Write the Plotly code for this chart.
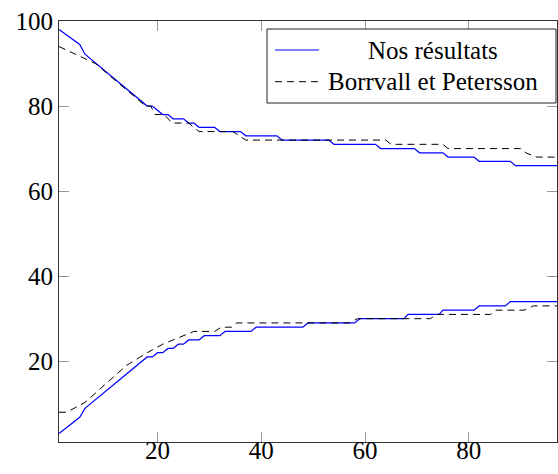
import plotly.graph_objects as go

# "Nos résultats" (blue, solid) - upper and lower branches
ours_up_x = [1, 5, 6, 18, 19, 21, 22, 23, 25, 26, 27, 28, 31, 32, 36, 37, 43, 44, 53, 54,
             62, 63, 69.5, 70.5, 75, 76, 81, 82, 88, 89, 97]
ours_up_y = [98, 94.5, 92.2, 80, 80, 78, 78, 77, 77, 76, 76, 75, 75, 74, 74, 73, 73, 72, 72, 71,
             71, 70, 70, 69, 69, 68, 68, 67, 67, 66, 66]
ours_lo_x = [1, 5, 6, 18, 19, 20, 21, 22, 23, 24, 25, 26, 28, 29, 32, 33, 38, 39, 48, 49,
             58, 59, 67.5, 68.3, 74.3, 75, 81, 82, 87, 88, 97]
ours_lo_y = [3, 6.8, 8.9, 21, 21, 22, 22, 23, 23, 24, 24, 25, 25, 26, 26, 27, 27, 28, 28, 29,
             29, 30, 30, 31, 31, 32, 32, 33, 33, 34, 34]

# "Borrvall et Petersson" (black, dashed) - upper and lower branches
bp_up_x = [1, 8, 17.7, 18.7, 19.5, 21.3, 22.8, 26, 28, 34.5, 37, 64, 65, 75, 76, 90, 91, 93, 97]
bp_up_y = [94, 90, 80, 80, 78, 78, 76, 76, 74, 74, 72, 72, 71, 71, 70, 70, 69, 68, 68]
bp_lo_x = [1, 2.5, 6, 14, 18, 21, 23, 25, 27, 31, 32.3, 34.3, 35.3, 57, 58.5, 72.6, 73.8,
           84.2, 85.2, 90.7, 92.4, 97]
bp_lo_y = [8, 8, 10.3, 19, 22, 24, 25, 26, 27, 27, 28, 28, 29, 29, 30, 30, 31,
           31, 32, 32, 33, 33]

x_ticks = [20, 40, 60, 80]
y_ticks = [20, 40, 60, 80, 100]
series_names = ["Nos résultats", "Borrvall et Petersson"]

FONT = "Liberation Serif"
BLUE_LINE = dict(color="#0000ff", width=1.2)
DASH_LINE = dict(color="black", width=1, dash="7px,5px")

fig = go.Figure()
fig.add_trace(go.Scatter(
    x=ours_up_x + [None] + ours_lo_x, y=ours_up_y + [None] + ours_lo_y,
    mode="lines", name=series_names[0], line=BLUE_LINE, connectgaps=False))
fig.add_trace(go.Scatter(
    x=bp_up_x + [None] + bp_lo_x, y=bp_up_y + [None] + bp_lo_y,
    mode="lines", name=series_names[1], line=DASH_LINE, connectgaps=False))

axis_common = dict(
    showgrid=False, zeroline=False, showline=True, linecolor="#333", linewidth=1,
    mirror="ticks", ticks="inside", ticklen=10, tickcolor="#999", tickwidth=1,
    tickfont=dict(family=FONT, size=25, color="black"),
)
fig.update_xaxes(range=[1, 97], tickvals=x_ticks, ticklabelstandoff=-14, **axis_common)
fig.update_yaxes(range=[1, 100], tickvals=y_ticks, **axis_common)

# pgfplots-style legend box, text centred in its column
def px(x):
    return (x - 59) / 498

def py(y):
    return (442 - y) / 421

fig.add_shape(type="rect", xref="paper", yref="paper",
              x0=px(267), x1=px(556), y0=py(103), y1=py(29),
              line=dict(color="#222", width=1), fillcolor="white", layer="above")
for i, (name, style) in enumerate(zip(series_names, [BLUE_LINE, DASH_LINE])):
    row_y = py(50 + i * 31.7)
    fig.add_shape(type="line", xref="paper", yref="paper",
                  x0=px(275), x1=px(319), y0=row_y, y1=row_y, line=style, layer="above")
    fig.add_annotation(text=name, xref="paper", yref="paper", x=px(433), y=row_y,
                       xanchor="center", yanchor="middle", showarrow=False,
                       font=dict(family=FONT, size=25, color="black"))

fig.update_layout(
    width=558, height=474,
    margin=dict(l=59, r=1, t=21, b=32),
    paper_bgcolor="white", plot_bgcolor="white",
    font=dict(family=FONT, size=25, color="black"),
    showlegend=False,
)

fig.write_html("out.html", config={"displayModeBar": False},
               post_script="document.body.style.margin='0';")
